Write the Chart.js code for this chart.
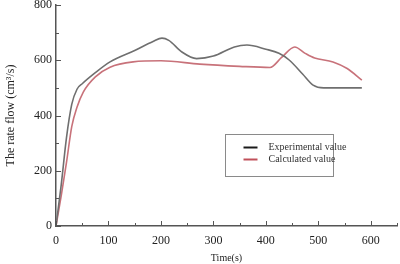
<!DOCTYPE html>
<html>
<head>
<meta charset="utf-8">
<script src="https://cdn.jsdelivr.net/npm/chart.js@4/dist/chart.umd.min.js"></script>
<style>
  html, body { margin: 0; padding: 0; background: #fff; }
  #wrap { width: 400px; height: 264px; }
</style>
</head>
<body>
<div id="wrap"><canvas id="flowChart" width="400" height="264"></canvas></div>
<script>
// --- Data ---
const seriesLabels = ['Experimental value', 'Calculated value'];

const expTime = [0, 10, 20, 30, 40, 50, 75, 103, 150, 185, 202, 215, 240, 268, 300, 340, 364, 400, 425, 445, 470, 490, 510, 583];
const expFlow = [0, 150, 320, 440, 495, 515, 555, 594, 635, 668, 680, 672, 630, 606, 615, 648, 655, 640, 625, 600, 550, 510, 500, 500];

const calcTime = [0, 10, 20, 30, 40, 52, 75, 103, 147, 200, 274, 350, 408, 430, 455, 475, 493, 528, 555, 583];
const calcFlow = [0, 110, 230, 360, 430, 485, 540, 575, 594, 598, 586, 578, 574, 610, 648, 625, 608, 594, 570, 528];

const xTicks = [0, 100, 200, 300, 400, 500, 600];
const yTicks = [0, 200, 400, 600, 800];

const toPoints = (xs, ys) => xs.map((x, i) => ({ x: x, y: ys[i] }));

const FONT = '"Liberation Serif", "DejaVu Serif", serif';

// draws inward tick marks (major + minor) along both axes
const inwardTicks = {
    id: 'inwardTicks',
    afterDraw(chart) {
        const { ctx, scales: { x, y } } = chart;
        ctx.save();
        ctx.strokeStyle = '#555';
        ctx.lineWidth = 1;
        for (let v = 0; v <= 650; v += 50) {
            const px = Math.round(x.getPixelForValue(v)) + 0.5;
            const len = v % 100 === 0 ? 5 : 3;
            ctx.beginPath();
            ctx.moveTo(px, y.bottom);
            ctx.lineTo(px, y.bottom - len);
            ctx.stroke();
        }
        for (let v = 0; v <= 800; v += 100) {
            const py = Math.round(y.getPixelForValue(v)) + 0.5;
            const len = v % 200 === 0 ? 5 : 3;
            ctx.beginPath();
            ctx.moveTo(x.left, py);
            ctx.lineTo(x.left + len, py);
            ctx.stroke();
        }
        ctx.restore();
    }
};

// boxed legend sitting inside the plot
const boxLegend = {
    id: 'boxLegend',
    afterDraw(chart) {
        const ctx = chart.ctx;
        const bx = 225.5, by = 134.5, bw = 108, bh = 42;
        const swatch = ['#1a1a1a', '#c0505a'];
        ctx.save();
        ctx.fillStyle = '#fff';
        ctx.fillRect(bx, by, bw, bh);
        ctx.strokeStyle = '#8a8a8a';
        ctx.lineWidth = 1;
        ctx.strokeRect(bx, by, bw, bh);
        ctx.font = '10px ' + FONT;
        ctx.textBaseline = 'middle';
        seriesLabels.forEach((label, i) => {
            const ly = by + 13 + i * 12;
            ctx.strokeStyle = swatch[i];
            ctx.lineWidth = 2;
            ctx.beginPath();
            ctx.moveTo(bx + 18, ly);
            ctx.lineTo(bx + 32, ly);
            ctx.stroke();
            ctx.fillStyle = '#333';
            ctx.fillText(label, bx + 43, ly);
        });
        ctx.restore();
    }
};

const ctx = document.getElementById('flowChart').getContext('2d');
const flowChart = new Chart(ctx, {
    type: 'line',
    data: {
        datasets: [{
            label: seriesLabels[0],
            data: toPoints(expTime, expFlow),
            borderColor: '#6f6f6f',
            borderWidth: 1.6,
            pointRadius: 0,
            cubicInterpolationMode: 'monotone',
            fill: false
        }, {
            label: seriesLabels[1],
            data: toPoints(calcTime, calcFlow),
            borderColor: '#c8727a',
            borderWidth: 1.6,
            pointRadius: 0,
            cubicInterpolationMode: 'monotone',
            fill: false
        }]
    },
    options: {
        responsive: false,
        animation: false,
        layout: { padding: { top: 5, right: 3, left: 4, bottom: 0 } },
        plugins: { legend: { display: false }, tooltip: { enabled: false } },
        scales: {
            x: {
                type: 'linear',
                min: 0,
                max: 650,
                afterBuildTicks: (s) => { s.ticks = xTicks.map(v => ({ value: v })); },
                afterFit: (s) => { s.height = 38; },
                grid: { display: false, drawTicks: false },
                border: { display: true, color: '#555', width: 1.5 },
                ticks: { color: '#222', font: { family: FONT, size: 12 }, padding: 8, maxRotation: 0 },
                title: { display: true, text: 'Time(s)', color: '#222', font: { family: FONT, size: 10 }, padding: { top: 4, bottom: 0 } }
            },
            y: {
                min: 0,
                max: 800,
                afterBuildTicks: (s) => { s.ticks = yTicks.map(v => ({ value: v })); },
                afterFit: (s) => { s.width = 52; s.paddingTop = 0; s.paddingBottom = 0; },
                grid: { display: false, drawTicks: false },
                border: { display: true, color: '#555', width: 1.5 },
                ticks: { color: '#222', font: { family: FONT, size: 12 }, padding: 4 },
                title: { display: true, text: 'The rate flow (cm³/s)', color: '#222', font: { family: FONT, size: 12 }, padding: { top: 0, bottom: 4 } }
            }
        }
    },
    plugins: [inwardTicks, boxLegend]
});
</script>
</body>
</html>
